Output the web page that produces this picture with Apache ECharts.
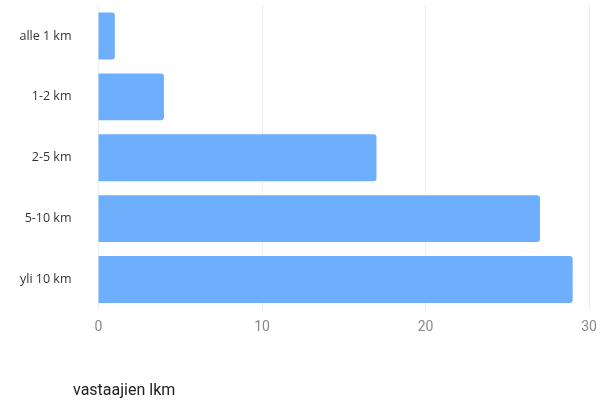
<!DOCTYPE html>
<html><head><meta charset="utf-8">
<script src="https://cdn.jsdelivr.net/npm/echarts@6/dist/echarts.min.js"></script>
<style>html,body{margin:0;padding:0;background:#fff}#c{width:603px;height:401px}</style>
</head><body><div id="c"></div>
<script>
const categories = ["alle 1 km", "1-2 km", "2-5 km", "5-10 km", "yli 10 km"];
const values = [1, 4, 17, 27, 29];
const axisTitle = "vastaajien lkm";

const chart = echarts.init(document.getElementById('c'), null, {renderer: 'canvas'});
chart.setOption({
  animation: false,
  grid: {left: 98.5, right: 14, top: 5.5, bottom: 91, containLabel: false},
  title: {
    text: axisTitle, left: 73, top: 383, padding: 0,
    textStyle: {fontFamily: 'Roboto', fontSize: 16, fontWeight: 'normal', color: '#222'}
  },
  xAxis: {
    type: 'value', min: 0, max: 30, interval: 10,
    axisLine: {show: false}, axisTick: {show: false},
    splitLine: {lineStyle: {color: '#eeeeee', width: 1}},
    axisLabel: {fontFamily: 'Roboto', fontSize: 14, color: '#888', margin: 10}
  },
  yAxis: {
    type: 'category', data: categories, inverse: true,
    axisLine: {show: false}, axisTick: {show: false},
    axisLabel: {fontFamily: 'Open Sans', fontSize: 12.5, color: '#333', margin: 27}
  },
  series: [{
    type: 'bar', data: values, barCategoryGap: '23%',
    itemStyle: {color: '#6daefd', borderRadius: [0, 3, 3, 0]}
  }]
});
</script></body></html>
